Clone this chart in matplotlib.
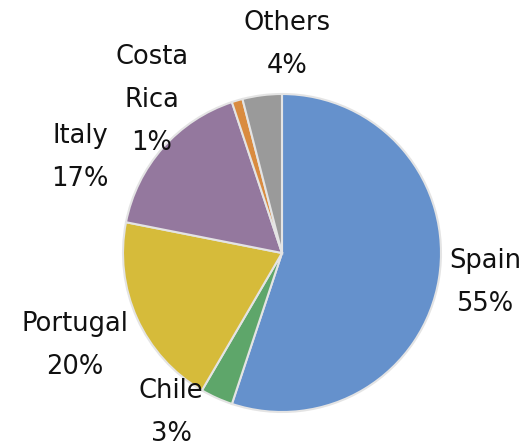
import matplotlib
matplotlib.use("Agg")
import matplotlib.pyplot as plt

# Data
countries = ["Spain", "Chile", "Portugal", "Italy", "Costa\nRica", "Others"]
shares = [55.1, 3.3, 19.7, 16.8, 1.1, 4.0]
colors = ["#6591CC", "#5EA66A", "#D6BB3A", "#94789E", "#D98B3F", "#9A9A9A"]

# Label positions (in pie-radius units)
label_pos = [(1.277, -0.186), (-0.698, -1.003), (-1.302, -0.582),
             (-1.270, 0.601), (-0.818, 0.962), (0.031, 1.311)]

fig = plt.figure(figsize=(5.28, 4.48), dpi=100)
ax = fig.add_axes([0, 0, 1, 1])
ax.pie(shares, colors=colors, startangle=90, counterclock=False,
       radius=1.0, wedgeprops=dict(edgecolor="#e4e4e4", linewidth=1.5))

total = sum(shares)
for name, v, (x, y) in zip(countries, shares, label_pos):
    pct = round(v / total * 100)
    ax.text(x, y, f"{name}\n{pct}%", ha="center", va="center",
            fontsize=18.5, color="#111111", linespacing=1.84,
            family="DejaVu Sans")

cx, cy, r = 282, 253, 159
ax.set_xlim(-cx / r, (528 - cx) / r)
ax.set_ylim(-(448 - cy) / r, cy / r)
ax.set_aspect("auto")
ax.axis("off")
fig.savefig("out.png", dpi=100)
